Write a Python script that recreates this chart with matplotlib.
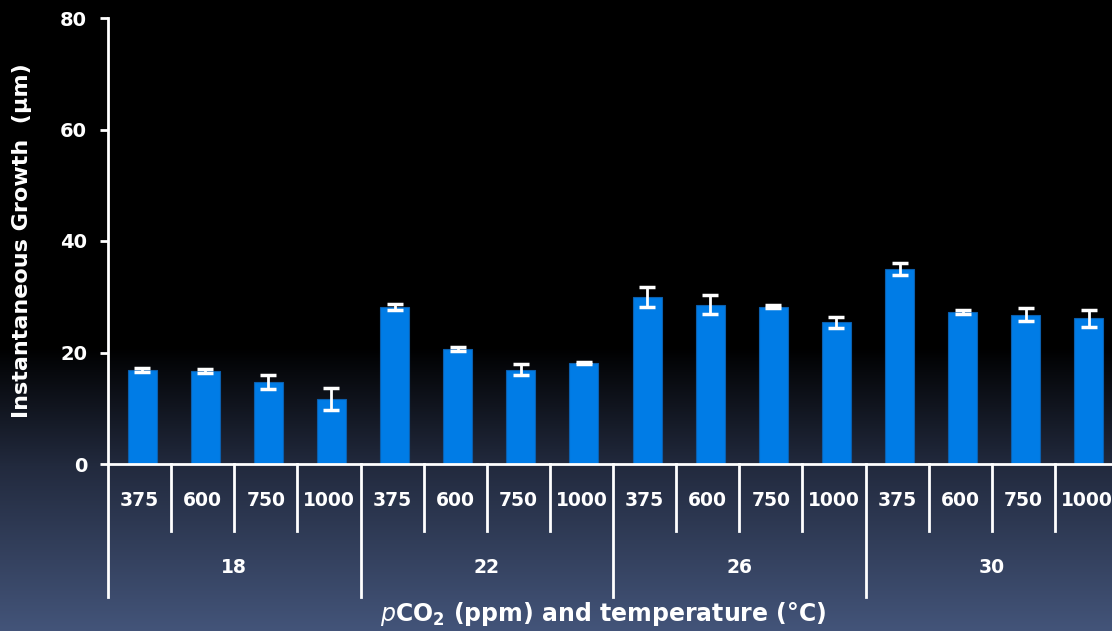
import numpy as np
import matplotlib.pyplot as plt
from matplotlib.colors import LinearSegmentedColormap

# Instantaneous growth per pCO2 level at each temperature
temps = ['18', '22', '26', '30']
pco2 = ['375', '600', '750', '1000']
growth = [16.9, 16.7, 14.7, 11.7,
          28.2, 20.6, 16.9, 18.1,
          30.0, 28.6, 28.2, 25.4,
          35.0, 27.3, 26.8, 26.1]
err = [0.4, 0.3, 1.3, 2.0,
       0.5, 0.4, 1.0, 0.2,
       1.8, 1.7, 0.3, 1.0,
       1.1, 0.4, 1.2, 1.5]

W, H = 1112, 631
fig = plt.figure(figsize=(W / 100, H / 100), dpi=100)

# background: black fading to slate blue near the bottom
bg = fig.add_axes([0, 0, 1, 1], zorder=-10)
cmap = LinearSegmentedColormap.from_list(
    'bg', [(0, '#000000'), (0.55, '#000000'), (0.74, '#222a3e'), (1.0, '#435479')])
grad = np.linspace(0, 1, 256).reshape(-1, 1)
bg.imshow(grad, aspect='auto', cmap=cmap, extent=[0, 1, 0, 1], origin='upper')
bg.axis('off')

left, right, bottom, top = 108, 1118, 464, 18
ax = fig.add_axes([left / W, (H - bottom) / H, (right - left) / W, (bottom - top) / H])
ax.patch.set_alpha(0)

x = np.arange(len(growth))
xb = x + 0.04
ax.bar(xb, growth, width=0.46, color='#007ce6', edgecolor='#0b5fae', linewidth=0.8, zorder=2)
ax.errorbar(xb, growth, yerr=err, fmt='none', ecolor='white', elinewidth=2,
            capsize=6, capthick=2.5, zorder=3)

ax.set_xlim(-0.5, len(growth) - 0.5)
ax.set_ylim(0, 80)
ax.set_yticks([0, 20, 40, 60, 80])
ax.set_xticks([])

for s in ['top', 'right']:
    ax.spines[s].set_visible(False)
for s in ['left', 'bottom']:
    ax.spines[s].set_color('white')
    ax.spines[s].set_linewidth(2)
ax.tick_params(axis='y', colors='white', width=2, length=6, direction='out', pad=9)
for lab in ax.get_yticklabels():
    lab.set_fontsize(14)
    lab.set_fontweight('bold')

ax.set_ylabel('Instantaneous Growth  (µm)', color='white', fontsize=16,
              fontweight='bold', labelpad=20)

trans = ax.get_xaxis_transform()
# separators between pCO2 cells and between temperature groups
for k in range(len(growth) + 1):
    xs = k - 0.5
    y_end = -0.298 if k % 4 == 0 else -0.150
    ax.plot([xs, xs], [0, y_end], color='white', lw=2, transform=trans, clip_on=False)

for i in x:
    ax.text(i, -0.081, pco2[i % 4], color='white', fontsize=13.5, fontweight='bold',
            ha='center', va='center', transform=trans)
for g, t in enumerate(temps):
    ax.text(g * 4 + 1.5, -0.233, t, color='white', fontsize=13.5, fontweight='bold',
            ha='center', va='center', transform=trans)

ax.text(7.35, -0.336, r'$\mathbf{\mathit{p}}$CO$_\mathbf{2}$ (ppm) and temperature (°C)',
        color='white', fontsize=17, fontweight='bold', ha='center', va='center',
        transform=trans)

fig.savefig('out.png', dpi=100)
